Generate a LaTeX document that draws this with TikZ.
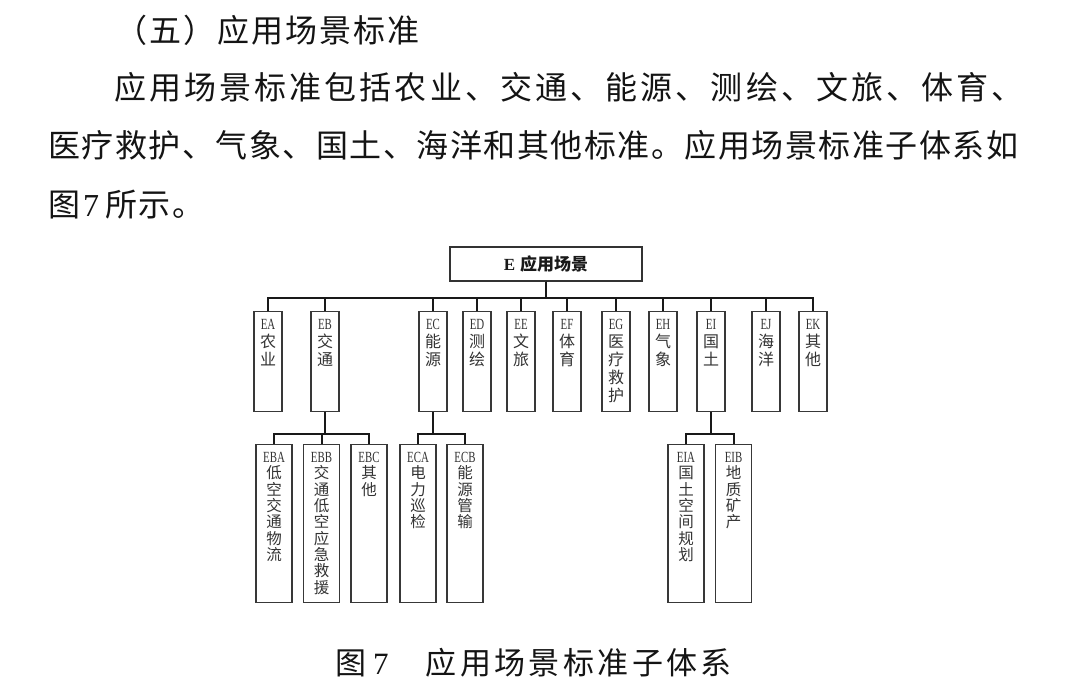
\documentclass[tikz,border=0pt]{standalone}
\usepackage{fontspec}
\setmainfont{Liberation Serif}
\newfontfamily\cjk{Noto Sans CJK SC}
\usepackage{graphicx}
\usepackage{tikz}

\tikzstyle{head} = [draw=black!80, line width=1.3pt, minimum width=192pt, minimum height=34pt, inner sep=0pt, text=black!90]
\tikzstyle{tier} = [draw=black!78, line width=1.3pt, fill=white, inner sep=0pt, anchor=north, text=black!80]
\tikzstyle{link} = [line width=2pt, black!90]
\tikzstyle{textline} = [anchor=west, inner sep=0pt, text=black!92]

\newcommand{\code}[1]{\scalebox{0.7}[1]{\fontsize{15.5}{15.5}\selectfont #1}}
\newcommand{\topcell}[2]{\parbox[c][100pt][t]{28pt}{\centering\fontsize{16}{18}\selectfont\rule{0pt}{18pt}\code{#1}\\\cjk #2}}
\newcommand{\subcell}[2]{\parbox[c][158pt][t]{36pt}{\centering\fontsize{15.5}{16.3}\selectfont\rule{0pt}{18pt}\code{#1}\\\cjk #2}}
\newcommand{\bodytext}[2]{\fontsize{#1}{#1}\cjk\addfontfeature{LetterSpace=#2}}

\begin{document}
\begin{tikzpicture}[x=1pt, y=-1pt]
        \fill[white] (0,0) rectangle (1080,700);
        \useasboundingbox (0,0) rectangle (1080,700);
        \node[textline] (title) at (115,30) {\bodytext{32}{6.25}（五）应用场景标准};
        \node[textline] (para1) at (114,87) {\bodytext{32}{9.7}应用场景标准包括农业、交通、能源、测绘、文旅、体育、};
        \node[textline] (para2) at (48,145) {\bodytext{32}{4.7}医疗救护、气象、国土、海洋和其他标准。应用场景标准子体系如};
        \node[textline] (para3) at (48,205) {\bodytext{32}{4.7}图\hspace{3pt}{\rmfamily 7}\hspace{6pt}所示。};
        \node[head] (root) at (546,264) {\fontsize{17}{17}\selectfont\bfseries E\hspace{5pt}\cjk\bfseries 应用场景};
        \node[tier] (ea) at (268,311) {\topcell{EA}{农\\业}};
        \node[tier] (eb) at (325,311) {\topcell{EB}{交\\通}};
        \node[tier] (ec) at (433,311) {\topcell{EC}{能\\源}};
        \node[tier] (ed) at (477,311) {\topcell{ED}{测\\绘}};
        \node[tier] (ee) at (521,311) {\topcell{EE}{文\\旅}};
        \node[tier] (ef) at (567,311) {\topcell{EF}{体\\育}};
        \node[tier] (eg) at (616,311) {\topcell{EG}{医\\疗\\救\\护}};
        \node[tier] (eh) at (663,311) {\topcell{EH}{气\\象}};
        \node[tier] (ei) at (711,311) {\topcell{EI}{国\\土}};
        \node[tier] (ej) at (766,311) {\topcell{EJ}{海\\洋}};
        \node[tier] (ek) at (813,311) {\topcell{EK}{其\\他}};
        \node[tier] (eba) at (274,444) {\subcell{EBA}{低\\空\\交\\通\\物\\流}};
        \node[tier] (ebb) at (321.5,444) {\subcell{EBB}{交\\通\\低\\空\\应\\急\\救\\援}};
        \node[tier] (ebc) at (369,444) {\subcell{EBC}{其\\他}};
        \node[tier] (eca) at (418,444) {\subcell{ECA}{电\\力\\巡\\检}};
        \node[tier] (ecb) at (465,444) {\subcell{ECB}{能\\源\\管\\输}};
        \node[tier] (eia) at (686,444) {\subcell{EIA}{国\\土\\空\\间\\规\\划}};
        \node[tier] (eib) at (733.5,444) {\subcell{EIB}{地\\质\\矿\\产}};
        \draw[link] (root.south) -- ++(0,16) -| (ea.north);
        \draw[link] (root.south) -- ++(0,16) -| (eb.north);
        \draw[link] (root.south) -- ++(0,16) -| (ec.north);
        \draw[link] (root.south) -- ++(0,16) -| (ed.north);
        \draw[link] (root.south) -- ++(0,16) -| (ee.north);
        \draw[link] (root.south) -- ++(0,16) -| (ef.north);
        \draw[link] (root.south) -- ++(0,16) -| (eg.north);
        \draw[link] (root.south) -- ++(0,16) -| (eh.north);
        \draw[link] (root.south) -- ++(0,16) -| (ei.north);
        \draw[link] (root.south) -- ++(0,16) -| (ej.north);
        \draw[link] (root.south) -- ++(0,16) -| (ek.north);
        \draw[link] (eb.south) -- ++(0,22) -| (eba.north);
        \draw[link] (eb.south) -- ++(0,22) -| (ebb.north);
        \draw[link] (eb.south) -- ++(0,22) -| (ebc.north);
        \draw[link] (ec.south) -- ++(0,22) -| (eca.north);
        \draw[link] (ec.south) -- ++(0,22) -| (ecb.north);
        \draw[link] (ei.south) -- ++(0,22) -| (eia.north);
        \draw[link] (ei.south) -- ++(0,22) -| (eib.north);
        \node[textline] (caption) at (335,663) {\bodytext{31}{11}图\hspace{7pt}{\rmfamily 7}\hspace{37pt}应用场景标准子体系};
        % \draw[red] (0,297) -- (1080,297);
\end{tikzpicture}
\end{document}
